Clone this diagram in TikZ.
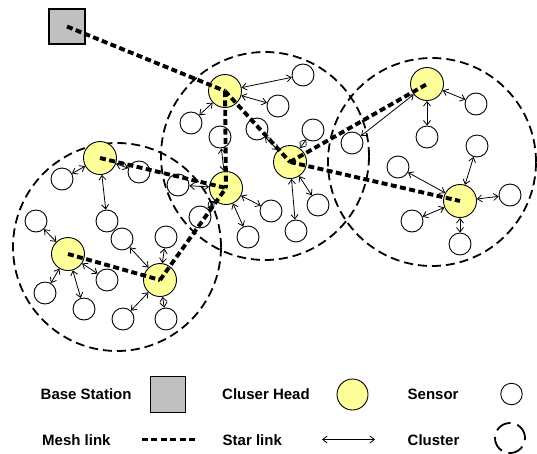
\documentclass[tikz,border=0pt]{standalone}
\usepackage{fontspec}
\setmainfont{Liberation Sans}
\usetikzlibrary{arrows.meta}

\begin{document}

\definecolor{headyellow}{HTML}{FFFF99}
\definecolor{stationgray}{HTML}{C0C0C0}

\tikzset{
  clusterring/.style={circle, draw, line width=1.8pt, dash pattern=on 9pt off 5pt,
                      minimum size=#1, inner sep=0pt},
  clusterring/.default=208pt,
  headnode/.style={circle, draw, line width=0.9pt, fill=headyellow,
                   minimum size=#1, inner sep=0pt},
  headnode/.default=33pt,
  sensornode/.style={circle, draw, line width=0.9pt, fill=white,
                     minimum size=#1, inner sep=0pt},
  sensornode/.default=22pt,
  stationnode/.style={rectangle, draw, line width=1.1pt, fill=stationgray,
                      minimum width=36pt, minimum height=35pt, inner sep=0pt},
  meshlink/.style={line width=3.9pt, dash pattern=on 6pt off 3.4pt},
  starlink/.style={line width=0.8pt,
                   {Straight Barb[length=4.5pt,width=7pt]}-{Straight Barb[length=4.5pt,width=7pt]}},
  legendtext/.style={anchor=west, inner sep=0pt,
                     font=\fontsize{15}{18}\selectfont\bfseries},
}

\begin{tikzpicture}[x=1pt, y=-1pt]
\useasboundingbox (0,0) rectangle (537,453);

% clusters
\node[clusterring] (cl) at (117,247) {};
\node[clusterring] (cm) at (265,156) {};
\node[clusterring] (cr) at (432,162) {};

% base station
\node[stationnode] (bs) at (67,26.5) {};

% cluster heads
\node[headnode] (h1) at (225,91) {};
\node[headnode] (h2) at (226,188) {};
\node[headnode] (h3) at (290,162) {};
\node[headnode] (h4) at (427,84) {};
\node[headnode] (h5) at (460,201) {};
\node[headnode] (h6) at (100,158) {};
\node[headnode] (h7) at (68,254) {};
\node[headnode] (h8) at (160,280) {};

% sensors, middle cluster
\node[sensornode] (m1) at (303,75) {};
\node[sensornode] (m2) at (278,106) {};
\node[sensornode] (m3) at (191,123) {};
\node[sensornode] (m4) at (220,137) {};
\node[sensornode] (m5) at (257,129) {};
\node[sensornode] (m6) at (313,130) {};
\node[sensornode] (m7) at (178,185) {};
\node[sensornode] (m8) at (200,217) {};
\node[sensornode] (m9) at (248,237) {};
\node[sensornode] (m10) at (271,211) {};
\node[sensornode] (m11) at (296,231) {};
\node[sensornode] (m12) at (318,205) {};

% sensors, right cluster
\node[sensornode] (r1) at (476,104) {};
\node[sensornode] (r2) at (427,137) {};
\node[sensornode] (r3) at (352,143) {};
\node[sensornode] (r4) at (398,167) {};
\node[sensornode] (r5) at (477,146) {};
\node[sensornode] (r6) at (510,195) {};
\node[sensornode] (r7) at (412,221) {};
\node[sensornode] (r8) at (460,244) {};

% sensors, left cluster
\node[sensornode] (l1) at (62,179) {};
\node[sensornode] (l2) at (139,172) {};
\node[sensornode] (l3) at (107,221) {};
\node[sensornode] (l4) at (36,221) {};
\node[sensornode] (l5) at (122,239) {};
\node[sensornode] (l6) at (166,237) {};
\node[sensornode] (l7) at (107,280) {};
\node[sensornode] (l8) at (45,293) {};
\node[sensornode] (l9) at (84,309) {};
\node[sensornode] (l10) at (123,319) {};
\node[sensornode] (l11) at (166,319) {};

% star links
\foreach \a/\b in {h1/m1, h1/m2, h1/m3, h2/m4, h3/m5, h3/m6, h2/m7, h2/m8,
                   h2/m9, h2/m10, h3/m11, h3/m12,
                   h4/r1, h4/r2, h4/r3, h5/r4, h5/r5, h5/r6, h5/r7, h5/r8,
                   h6/l1, h6/l2, h6/l3, h7/l4, h8/l5, h8/l6, h7/l7, h7/l8,
                   h7/l9, h8/l10, h8/l11}
  \draw[starlink] (\a) -- (\b);

% mesh links
\foreach \a/\b in {bs/h1, h1/h2, h1/h3, h3/h4, h3/h5, h6/h2, h8/h2, h7/h8}
  \draw[meshlink] (\a.center) -- (\b.center);

% legend
\node[legendtext] (t1) at (40.5,394) {Base Station};
\node[stationnode, minimum width=35.5pt, minimum height=36pt] (k1) at (168,394.5) {};
\node[legendtext] (t2) at (222,394) {Cluser Head};
\node[headnode=31pt] (k2) at (352.5,394.5) {};
\node[legendtext] (t3) at (407.5,394) {Sensor};
\node[sensornode=21.5pt] (k3) at (511.5,394) {};

\node[legendtext] (t4) at (42,440) {Mesh link};
\coordinate (ma) at (142,439.5);
\coordinate (mb) at (198,439.5);
\draw[meshlink] (ma) -- (mb);
\node[legendtext] (t5) at (222.5,440) {Star link};
\coordinate (sa) at (322,439.5);
\coordinate (sb) at (375,439.5);
\draw[starlink] (sa) -- (sb);
\node[legendtext] (t6) at (407.5,440) {Cluster};
\node[clusterring=30pt, dash pattern=on 16pt off 7pt] (k6) at (510,438) {};
\end{tikzpicture}
\end{document}
